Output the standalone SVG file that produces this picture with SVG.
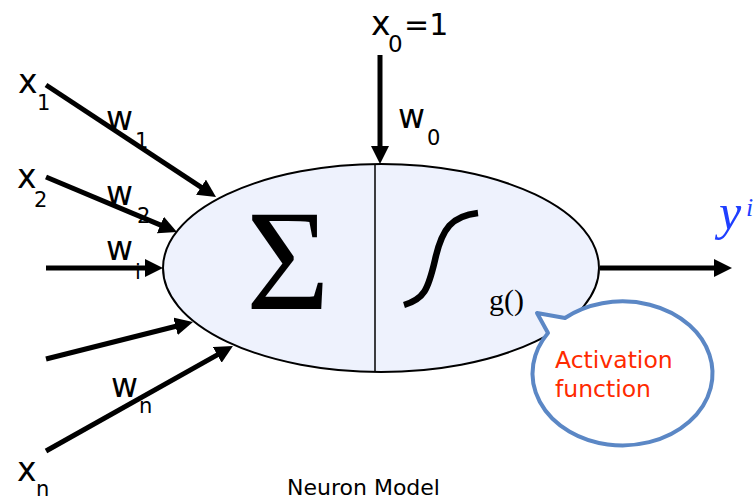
<svg xmlns="http://www.w3.org/2000/svg" width="753" height="500" viewBox="0 0 753 500">
<style>
.lbl{font-family:"DejaVu Sans","Liberation Sans",sans-serif;fill:#000}
.big{font-size:33px}
.sub{font-size:21px}
.wire{stroke:#000;stroke-width:5;fill:none;marker-end:url(#ah)}
</style>
<defs>
<marker id="ah" viewBox="0 0 10 10" refX="2" refY="5" markerUnits="userSpaceOnUse" markerWidth="18" markerHeight="18" orient="auto">
<path d="M0,0 L10,5 L0,10 z" fill="#000"/>
</marker>
</defs>
<rect width="753" height="500" fill="#fff"/>
<g id="labels">
<text class="lbl big" x="18" y="93">x</text><text class="lbl sub" x="37" y="110">1</text>
<text class="lbl big" x="106" y="130">w</text><text class="lbl sub" x="135" y="148">1</text>
<text class="lbl big" x="17" y="188">x</text><text class="lbl sub" x="34" y="207">2</text>
<text class="lbl big" x="106" y="205">w</text><text class="lbl sub" x="137" y="223">2</text>
<text class="lbl big" x="106" y="260">w</text><text class="lbl sub" x="135" y="279">i</text>
<text class="lbl big" x="111" y="397">w</text><text class="lbl sub" x="139" y="413">n</text>
<text class="lbl big" x="17" y="481">x</text><text class="lbl sub" x="36" y="496">n</text>
<text class="lbl big" x="371" y="35">x</text><text class="lbl" style="font-size:23px" x="388" y="52">0</text><text class="lbl" style="font-size:30px" x="404" y="35">=1</text>
<text class="lbl big" x="398" y="128">w</text><text class="lbl sub" x="427" y="145">0</text>
</g>
<g id="connectors">
<path class="wire" d="M46,85 L204,189.1"/>
<path class="wire" d="M46,177 L163.7,226.4"/>
<path class="wire" d="M46,268 L148.6,268"/>
<path class="wire" d="M46,359 L179,325.5"/>
<path class="wire" d="M46,451 L220.4,353.1"/>
<path class="wire" d="M380,55 L380,149.6"/>
<path class="wire" d="M600,268 L717.6,268"/>
</g>
<g id="neuron">
<ellipse cx="381" cy="268" rx="218" ry="104" fill="#eef2fd" stroke="#000" stroke-width="2"/>
<line x1="375" y1="165" x2="375" y2="372" stroke="#000" stroke-width="1.5"/>
<text x="288" y="309" text-anchor="middle" style="font-family:'Liberation Serif',serif;font-size:144px">Σ</text>
<path d="M404,305 C424,299 428,290 435,260 C442,228 452,216 478,213" fill="none" stroke="#000" stroke-width="6.5"/>
<text x="489" y="310" style="font-family:'Liberation Serif',serif;font-size:30px">g()</text>
</g>
<g id="output">
<text x="719" y="229" fill="#1f3fff" style="font-family:'Liberation Serif',serif;font-style:italic;font-size:50px">y</text>
<text x="746" y="216" fill="#1f3fff" style="font-family:'Liberation Serif',serif;font-style:italic;font-size:26px">i</text>
</g>
<g id="callout">
<path d="M548,333 L537,313 L565,318 A90,72 0 1,1 548,333 Z" fill="#fff" stroke="#5b87c5" stroke-width="4" stroke-linejoin="round"/>
<text x="555" y="368" fill="#ff2a00" style="font-family:'DejaVu Sans',sans-serif;font-size:23.5px">Activation</text>
<text x="555" y="397" fill="#ff2a00" style="font-family:'DejaVu Sans',sans-serif;font-size:23.5px">function</text>
</g>
<text class="lbl" x="287" y="495" style="font-size:22px">Neuron Model</text>
</svg>
